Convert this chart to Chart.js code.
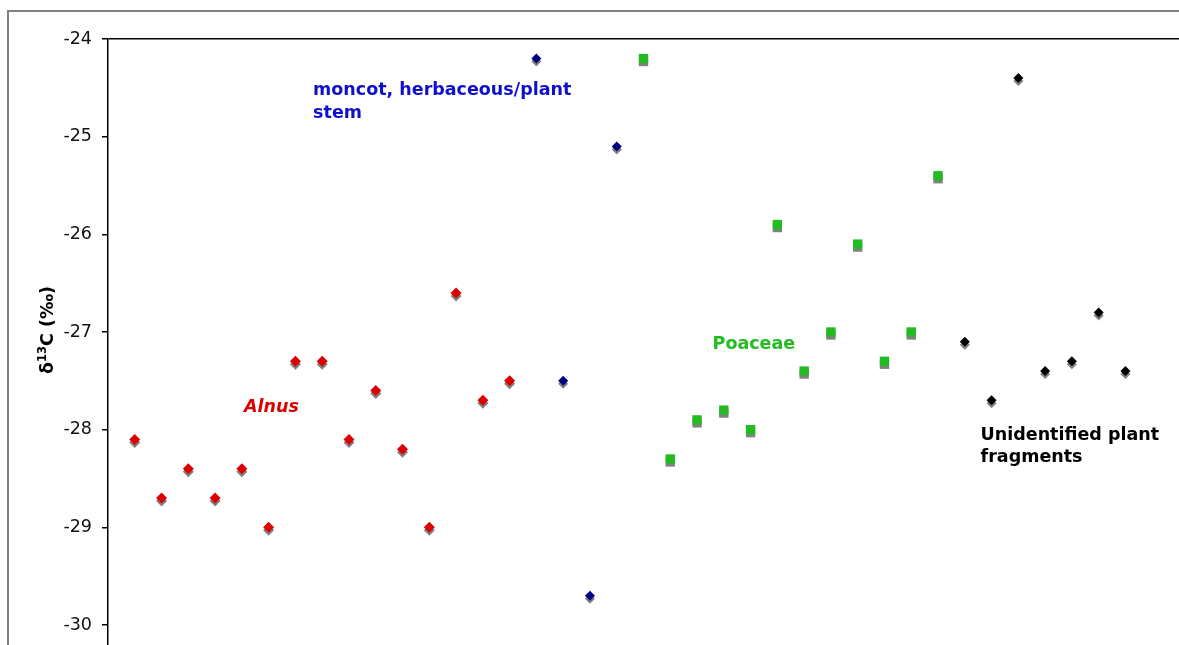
<!DOCTYPE html>
<html>
<head>
<meta charset="utf-8">
<script src="https://cdn.jsdelivr.net/npm/chart.js@4.4.1/dist/chart.umd.min.js"></script>
<style>
  html, body { margin: 0; padding: 0; background: #fff; overflow: hidden; height: 645px; }
  /* the plot runs past the bottom of the window, as in the original crop */
  #wrap { position: relative; width: 1179px; height: 665px; }
</style>
</head>
<body>
<div id="wrap"><canvas id="myChart"></canvas></div>
<script>
"use strict";
// sample values (d13C, per mil), in sample order left to right
const alnusValues = [-28.1, -28.7, -28.4, -28.7, -28.4, -29.0, -27.3, -27.3, -28.1, -27.6, -28.2, -29.0, -26.6, -27.7, -27.5];
const monocotValues = [-24.2, -27.5, -29.7, -25.1];
const poaceaeValues = [-24.2, -28.3, -27.9, -27.8, -28.0, -25.9, -27.4, -27.0, -26.1, -27.3, -27.0, -25.4];
const unidentifiedValues = [-27.1, -27.7, -24.4, -27.4, -27.3, -26.8, -27.4];
const yTicks = [-30, -29, -28, -27, -26, -25, -24];

// group labels written on the plot (anchored in data units)
const groupLabels = [
  { lines: ["moncot, herbaceous/plant", "stem"], x: 7.66, y: -24.578, color: "#1010cc", italic: false },
  { lines: ["Alnus"], x: 5.08, y: -27.816, color: "#dd0000", italic: true },
  { lines: ["Poaceae"], x: 22.58, y: -27.174, color: "#22bb22", italic: false },
  { lines: ["Unidentified plant", "fragments"], x: 32.59, y: -28.106, color: "#000000", italic: false },
];

// samples are numbered one after another across the groups
let sampleNo = 0;
function toPoints(values) {
  return values.map((v) => ({ x: ++sampleNo, y: v }));
}

const FONT = "'DejaVu Sans', Verdana, sans-serif";

// outer frame, y title and the text labels
const extras = {
  id: "extras",
  beforeDraw(chart) {
    const ctx = chart.ctx;
    ctx.save();
    ctx.strokeStyle = "#808080";
    ctx.lineWidth = 2;
    ctx.strokeRect(8, 11, 1400, 1000);
    ctx.restore();
  },
  beforeDatasetsDraw(chart) {
    // grey drop shadow under every marker
    const ctx = chart.ctx;
    ctx.save();
    ctx.shadowColor = "#808080";
    ctx.shadowOffsetX = 0;
    ctx.shadowOffsetY = 3;
    ctx.shadowBlur = 0;
  },
  afterDatasetsDraw(chart) {
    chart.ctx.restore();
  },
  afterDraw(chart) {
    const ctx = chart.ctx;
    const xs = chart.scales.x;
    const ys = chart.scales.y;

    ctx.save();
    ctx.textBaseline = "alphabetic";
    ctx.textAlign = "left";
    groupLabels.forEach((lab) => {
      ctx.fillStyle = lab.color;
      ctx.font = (lab.italic ? "italic " : "") + "bold 17.5px " + FONT;
      const px = xs.getPixelForValue(lab.x);
      const py = ys.getPixelForValue(lab.y);
      lab.lines.forEach((line, i) => {
        ctx.fillText(line, px, py + i * 22.5);
      });
    });
    ctx.restore();

    // y axis title with superscript
    ctx.save();
    ctx.translate(53, 330);
    ctx.rotate(-Math.PI / 2);
    ctx.fillStyle = "#000";
    ctx.textBaseline = "alphabetic";
    const big = "bold 17.5px " + FONT;
    const small = "bold 11.5px " + FONT;
    ctx.font = big;
    const w1 = ctx.measureText("\u03b4").width;
    const w3 = ctx.measureText("C (\u2030)").width;
    ctx.font = small;
    const w2 = ctx.measureText("13").width;
    let x0 = -(w1 + w2 + w3) / 2;
    ctx.font = big;
    ctx.fillText("\u03b4", x0, 0);
    ctx.font = small;
    ctx.fillText("13", x0 + w1, -7);
    ctx.font = big;
    ctx.fillText("C (\u2030)", x0 + w1 + w2, 0);
    ctx.restore();
  },
};

const series = [
  { data: toPoints(alnusValues), color: "#dd0000", style: "rectRot", r: 5.5 },
  { data: toPoints(monocotValues), color: "#000080", style: "rectRot", r: 5 },
  { data: toPoints(poaceaeValues), color: "#22bb22", style: "rect", r: 6.6 },
  { data: toPoints(unidentifiedValues), color: "#000000", style: "rectRot", r: 5 },
];

let chartCanvas = document.getElementById("myChart");
const myChart = new Chart(chartCanvas, {
  type: "scatter",
  data: {
    datasets: series.map((s) => ({
      data: s.data,
      backgroundColor: s.color,
      borderColor: s.color,
      borderWidth: 0,
      pointStyle: s.style,
      pointRadius: s.r,
      pointHoverRadius: s.r,
      clip: false,
    })),
  },
  options: {
    responsive: true,
    maintainAspectRatio: false,
    animation: false,
    events: [],
    layout: { autoPadding: false, padding: { top: 39, left: 0, right: 0, bottom: 0 } },
    plugins: {
      legend: { display: false },
      tooltip: { enabled: false },
    },
    scales: {
      x: {
        type: "linear",
        min: 0,
        max: 40,
        display: false,
      },
      y: {
        min: -30.2,
        max: -24,
        afterBuildTicks: (scale) => {
          scale.ticks = yTicks.map((v) => ({ value: v }));
        },
        afterFit: (scale) => {
          scale.width = 108;
        },
        border: { display: true, color: "#000", width: 1.5 },
        grid: {
          drawOnChartArea: true,
          color: (c) => (c.tick && c.tick.value === -24 ? "#000" : "rgba(0,0,0,0)"),
          lineWidth: 1.5,
          tickColor: "#000",
          tickLength: 6,
        },
        ticks: {
          color: "#111",
          padding: 10,
          font: { family: FONT, size: 17.5 },
          callback: (v) => String(v),
        },
      },
    },
  },
  plugins: [extras],
});
</script>
</body>
</html>
